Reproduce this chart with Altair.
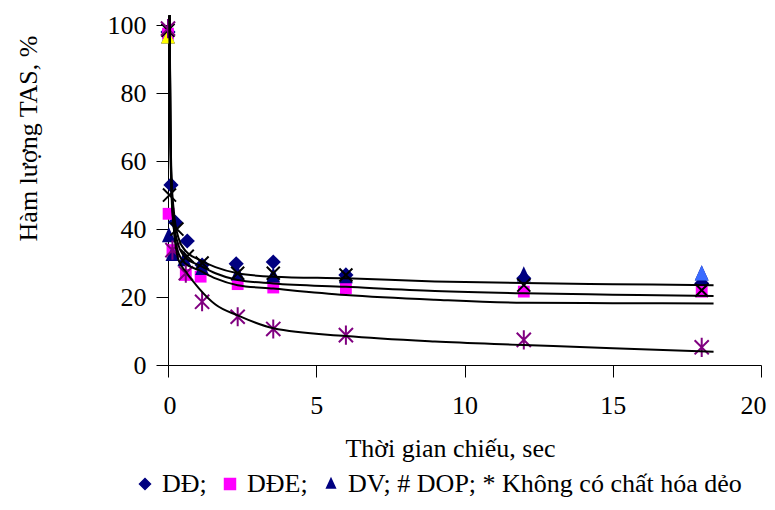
import altair as alt
import pandas as pd

FONT = "Liberation Serif"
FS = 26

# ---------------- data ----------------
series_names = ["DĐ", "DĐE", "DV", "DOP", "Không có chất hóa dẻo"]

dd_x = [0, 0.1, 0.25, 0.65, 1.15, 2.3, 3.55, 6.0, 12.0, 18.0]
dd_y = [98, 53, 42, 36.5, 29.4, 29.8, 30.3, 26.5, 25.5, 24]

dde_x = [0, 0.02, 0.15, 0.6, 1.1, 2.35, 3.55, 6.0, 12.0, 18.0]
dde_y = [97.5, 44.5, 33.8, 26.5, 26, 23.8, 22.8, 22.6, 21.6, 21.6]

dv_x = [0, 0.03, 0.15, 0.55, 1.15, 2.35, 3.55, 6.0, 12.0, 18.0]
dv_y = [96.5, 38, 32.5, 31, 28.4, 26.8, 26.2, 26, 26.5, 26.8]

dop_x = [0, 0.05, 0.3, 0.65, 1.15, 2.35, 3.55, 6.0, 12.0, 18.0]
dop_y = [98.5, 50, 40, 32, 30, 27, 27, 26.5, 23.5, 22]

none_x = [0, 0.15, 0.6, 1.15, 2.35, 3.55, 6.0, 12.0, 18.0]
none_y = [99, 33.8, 27, 18.6, 14.2, 10.6, 8.8, 7.4, 5.2]

# individually recoloured DV points (first and last)
dv_special_idx = [0, 9]
dv_special_col = ["#FFFF00", "#3A6BFF"]

# trend curves
curve_x = [0.05, 0.08, 0.12, 0.2, 0.35, 0.6, 1.05, 1.6, 2.35, 3.55, 6.0, 9.0, 12.0, 15.0, 18.4]
curve1_y = [110, 75, 55, 45, 37.5, 33.5, 31, 28.8, 27, 26, 25.5, 24.6, 24.1, 23.8, 23.5]
curve2_y = [110, 70, 52, 42, 35.3, 31.5, 29.4, 27, 25, 24, 23, 21.8, 21.1, 20.7, 20.3]
curve3_y = [110, 68, 50, 40, 33, 29.8, 27.9, 25.5, 23.5, 22.5, 20.6, 19.2, 18.3, 18.2, 18.1]
curve4_y = [110, 72, 52, 40, 31, 27.5, 22.5, 17.8, 14.6, 10.8, 8.5, 6.9, 5.9, 4.9, 3.9]

x_ticks = [0, 5, 10, 15, 20]
y_ticks = [0, 20, 40, 60, 80, 100]

# ---------------- styles ----------------
TRI = "M0,-1L0.8,0.75L-0.8,0.75Z"
XPATH = "M-1,-1L1,1M-1,1L1,-1"
STAR = "M-1,-1L1,1M-1,1L1,-1M0,-1.35L0,1.35"
colors = ["#000080", "#FF00FF", "#000080", "#000000", "#800080"]
shapes = ["diamond", "square", TRI, XPATH, STAR]
sizes = {"DĐ": 230, "DĐE": 140, "DV": 300, "DOP": 170, "Không có chất hóa dẻo": 200}

# ---------------- tables ----------------
rows = []
for name, xs, ys in [("DĐ", dd_x, dd_y), ("DĐE", dde_x, dde_y), ("DV", dv_x, dv_y),
                     ("DOP", dop_x, dop_y), ("Không có chất hóa dẻo", none_x, none_y)]:
    for xv, yv in zip(xs, ys):
        rows.append({"series": name, "x": xv, "y": yv, "sz": sizes[name]})
pts = pd.DataFrame(rows)
filled_df = pts[pts.series.isin(["DĐ", "DĐE", "DV"])]
stroke_df = pts[pts.series.isin(["DOP", "Không có chất hóa dẻo"])]

special_df = pd.DataFrame({
    "x": [dv_x[i] for i in dv_special_idx],
    "y": [dv_y[i] for i in dv_special_idx],
    "col": dv_special_col,
})

crow = []
for cid, cy in enumerate([curve1_y, curve2_y, curve3_y, curve4_y]):
    for xv, yv in zip(curve_x, cy):
        crow.append({"curve": cid, "x": xv, "y": yv})
curves = pd.DataFrame(crow)

# ---------------- encodings ----------------
xscale = alt.Scale(domain=[0, 20], nice=False, zero=False)
yscale = alt.Scale(domain=[0, 103], nice=False)

xaxis = alt.Axis(values=x_ticks, title="Thời gian chiếu, sec", grid=False,
                 tickSize=12, labelPadding=15, titlePadding=17, titleX=282,
                 labelFlush=True, labelFlushOffset=5, labelOverlap=False,
                 domainColor="black", tickColor="black", labelColor="black",
                 titleColor="black", labelFont=FONT, titleFont=FONT,
                 labelFontSize=FS, titleFontSize=FS, titleFontWeight="normal")
yaxis = alt.Axis(values=y_ticks, title="Hàm lượng TAS, %", grid=False,
                 tickSize=12, labelPadding=10, titleX=-140, titleY=123,
                 titleAngle=-90, titleAlign="center", titleBaseline="middle",
                 domainColor="black", tickColor="black", labelColor="black",
                 titleColor="black", labelFont=FONT, titleFont=FONT,
                 labelFontSize=FS, titleFontSize=FS, titleFontWeight="normal")

legend = alt.Legend(values=["DĐ", "DĐE", "DV"], orient="none", legendX=-36, legendY=456,
                    direction="horizontal", title=None, labelFont=FONT,
                    labelFontSize=FS, labelColor="black", labelLimit=0,
                    symbolSize=120, labelOffset=4, columnPadding=10,
                    labelExpr="datum.label == 'DV' ? 'DV; # DOP; * Không có chất hóa dẻo' : datum.label + ';'")

color_enc = alt.Color("series:N", scale=alt.Scale(domain=series_names, range=colors), legend=legend)
shape_enc = alt.Shape("series:N", scale=alt.Scale(domain=series_names, range=shapes), legend=legend)

X = alt.X("x:Q", scale=xscale, axis=xaxis)
Y = alt.Y("y:Q", scale=yscale, axis=yaxis)

lines = alt.Chart(curves).mark_line(color="black", strokeWidth=2, interpolate="monotone", clip=True).encode(
    x=X, y=Y, detail="curve:N")

filled = alt.Chart(filled_df).mark_point(filled=True, opacity=1).encode(
    x=X, y=Y, color=color_enc, shape=shape_enc,
    size=alt.Size("sz:Q", scale=None, legend=None))

special = alt.Chart(special_df).mark_point(filled=True, opacity=1).encode(
    x=X, y=Y, color=alt.Color("col:N", scale=None), shape=alt.value(TRI), size=alt.value(sizes["DV"]))

stroked = alt.Chart(stroke_df).mark_point(filled=False, opacity=1, strokeWidth=2).encode(
    x=X, y=Y, color=color_enc, shape=shape_enc,
    size=alt.Size("sz:Q", scale=None, legend=None))

chart = alt.layer(filled, special, stroked, lines).properties(
    width=593, height=350,
    padding={"left": 160, "top": 7, "right": 6, "bottom": 133},
    autosize=alt.AutoSizeParams(type="none"),
    background="white",
).configure_view(stroke=None)

chart.save("out.html", embed_options={"renderer": "svg", "actions": False})
